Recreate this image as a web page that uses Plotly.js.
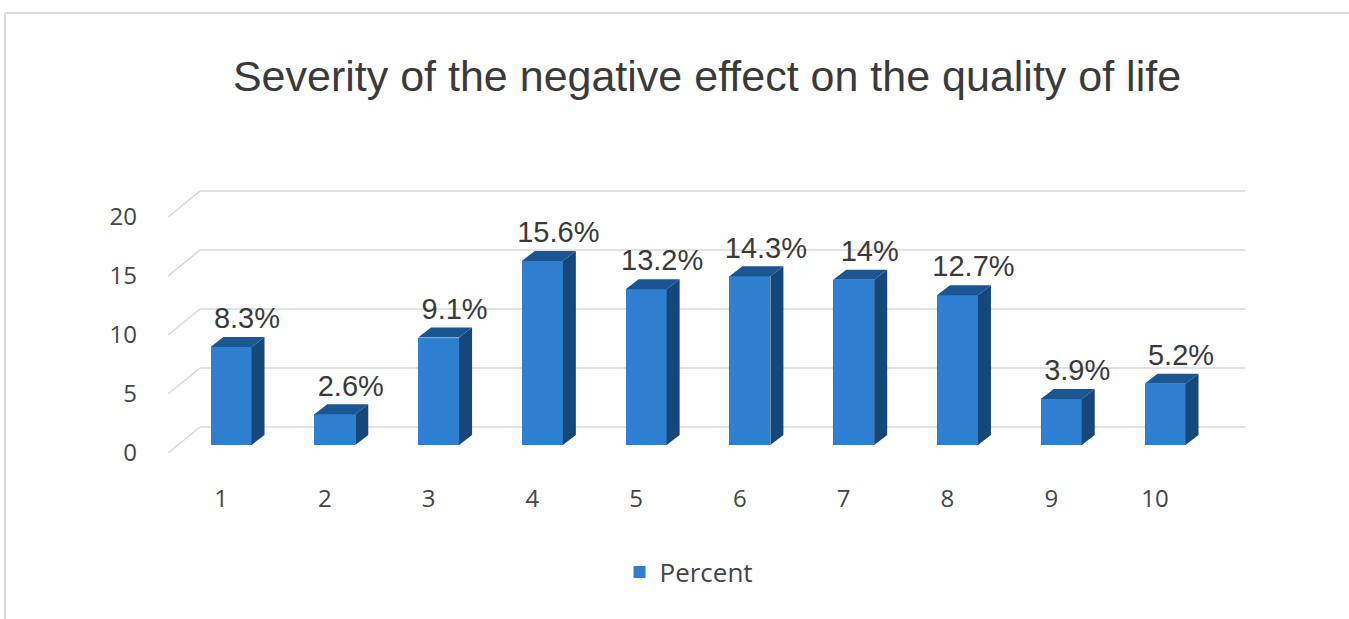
<!DOCTYPE html>
<html>
<head>
<meta charset="utf-8">
<script src="https://cdn.plot.ly/plotly-3.0.1.min.js"></script>
<style>
  html, body { margin: 0; padding: 0; background: #ffffff; }
  #chart { width: 1349px; height: 619px; }
</style>
</head>
<body>
<div id="chart"></div>
<script>
// ---- data ----
const categories = ['1', '2', '3', '4', '5', '6', '7', '8', '9', '10'];
const percent = [8.3, 2.6, 9.1, 15.6, 13.2, 14.3, 14, 12.7, 3.9, 5.2];
const valueLabels = ['8.3%', '2.6%', '9.1%', '15.6%', '13.2%', '14.3%', '14%', '12.7%', '3.9%', '5.2%'];
const yTicks = [0, 5, 10, 15, 20];
const seriesName = 'Percent';
const titleText = 'Severity of the negative effect on the quality of life';

// ---- geometry (pixel layout) ----
const W = 1349, H = 619;
const PL = 160, PR = 1250, PT = 180, PB = 460;
const firstCenterPx = 231, pxX = 103.78;
const zeroPx = 445, pxY = 11.8;
const xRange = [1 - (firstCenterPx - PL) / pxX, 1 + (PR - firstCenterPx) / pxX];
const yRange = [-(PB - zeroPx) / pxY, (zeroPx - PT) / pxY];

const barW = 41 / pxX;           // front face width
const depX = 13 / pxX, depY = 10 / pxY;   // bar depth
const frontX = 10 / pxX, frontY = 8 / pxY; // front wall offset
const backX = 22 / pxX, backY = 18 / pxY;  // back wall offset
const wallLeft = 0.49, wallRight = 10.56;
const lblDX = 16 / pxX, lblDY = 26 / pxY;

const xs = categories.map((c, i) => i + 1);

const colFront = '#2F7FD1', colTop = '#1B5693', colSide = '#15477A';

// faces
const topX = [], topY = [], sideX = [], sideY = [];
xs.forEach((x, i) => {
  const v = percent[i];
  const l = x - barW / 2, r = x + barW / 2;
  topX.push(l, r, r + depX, l + depX, l, null);
  topY.push(v, v, v + depY, v + depY, v, null);
  sideX.push(r, r, r + depX, r + depX, r, null);
  sideY.push(0, v, v + depY, depY, 0, null);
});

const traces = [
  {
    type: 'bar', x: xs, y: percent, width: barW, name: seriesName,
    marker: { color: colFront, line: { width: 0 } },
    showlegend: true, hoverinfo: 'y'
  },
  {
    type: 'scatter', mode: 'lines', x: sideX, y: sideY, fill: 'toself',
    fillcolor: colSide, line: { width: 0, color: colSide }, showlegend: false, hoverinfo: 'skip'
  },
  {
    type: 'scatter', mode: 'lines', x: topX, y: topY, fill: 'toself',
    fillcolor: colTop, line: { width: 0, color: colTop }, showlegend: false, hoverinfo: 'skip'
  },
  {
    type: 'scatter', mode: 'text',
    x: xs.map(x => x + lblDX), y: percent.map(v => v + lblDY),
    text: valueLabels, textposition: 'middle center',
    textfont: { family: 'Liberation Sans, Arial, sans-serif', size: 29, color: '#3a3a3a' },
    cliponaxis: false, showlegend: false, hoverinfo: 'skip'
  }
];

// gridlines on back wall + diagonals on side wall
const shapes = [];
yTicks.forEach(v => {
  shapes.push({
    type: 'line', layer: 'below', xref: 'x', yref: 'y',
    x0: wallLeft + backX, y0: v + backY, x1: wallRight + backX, y1: v + backY,
    line: { color: '#d9d9d9', width: 1.6 }
  });
  shapes.push({
    type: 'line', layer: 'below', xref: 'x', yref: 'y',
    x0: wallLeft - frontX, y0: v - frontY, x1: wallLeft + backX, y1: v + backY,
    line: { color: '#d9d9d9', width: 1.6 }
  });
});
// chart-area border (top and left edges visible)
const pw = PR - PL, ph = PB - PT;
const px2paperX = p => (p - PL) / pw;
const px2paperY = p => (PB - p) / ph;
shapes.push({
  type: 'line', xref: 'paper', yref: 'paper', layer: 'above',
  x0: px2paperX(5), y0: px2paperY(13), x1: px2paperX(W + 5), y1: px2paperY(13),
  line: { color: '#d9d9d9', width: 2 }
});
shapes.push({
  type: 'line', xref: 'paper', yref: 'paper', layer: 'above',
  x0: px2paperX(5), y0: px2paperY(13), x1: px2paperX(5), y1: px2paperY(H + 5),
  line: { color: '#d9d9d9', width: 2 }
});

const tickFont = { family: 'Open Sans, sans-serif', size: 24, color: '#454545' };

const layout = {
  width: W, height: H,
  margin: { l: PL, r: W - PR, t: PT, b: H - PB, pad: 0 },
  paper_bgcolor: '#ffffff', plot_bgcolor: 'rgba(0,0,0,0)',
  title: {
    text: titleText, xref: 'container', yref: 'container',
    x: 707 / W, y: 1 - 76 / H, xanchor: 'center', yanchor: 'middle',
    font: { family: 'Liberation Sans, Arial, sans-serif', size: 43, color: '#3a3a3a' }
  },
  xaxis: {
    range: xRange, showgrid: false, zeroline: false, showline: false,
    tickmode: 'array', tickvals: xs.map(x => x - frontX), ticktext: categories,
    ticks: '', tickfont: tickFont, ticklabelstandoff: 22, fixedrange: true
  },
  yaxis: {
    range: yRange, showgrid: false, zeroline: false, showline: false,
    tickmode: 'array', tickvals: yTicks.map(v => v - frontY), ticktext: yTicks.map(String),
    ticks: '', tickfont: tickFont, ticklabelstandoff: 22, fixedrange: true
  },
  showlegend: true,
  legend: {
    orientation: 'h', x: px2paperX(689), y: px2paperY(572),
    xanchor: 'center', yanchor: 'middle',
    font: { family: 'Open Sans, sans-serif', size: 26, color: '#454545' },
    bgcolor: 'rgba(0,0,0,0)'
  },
  shapes: shapes,
  bargap: 0
};

Plotly.newPlot('chart', traces, layout, { displayModeBar: false, staticPlot: true });
</script>
</body>
</html>
